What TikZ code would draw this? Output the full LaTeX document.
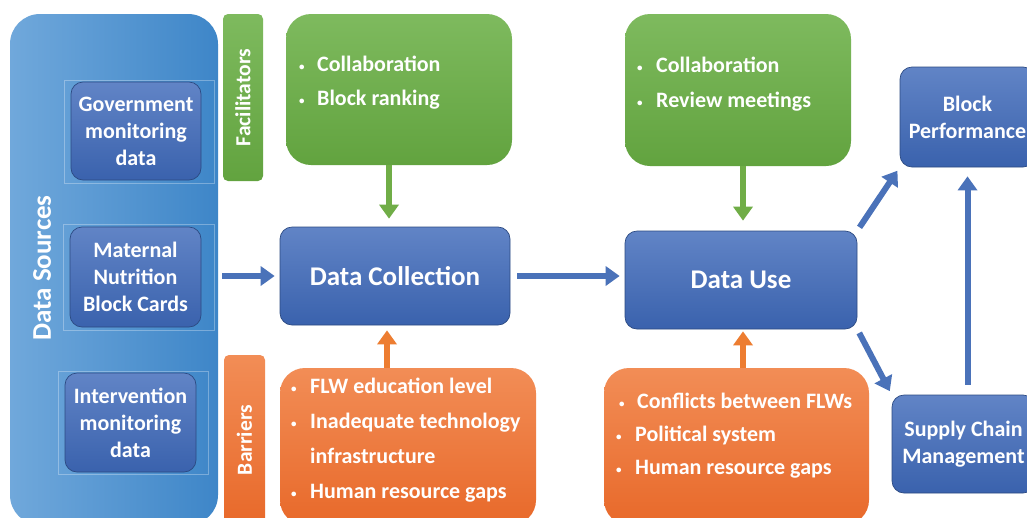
\documentclass[tikz,border=0pt]{standalone}
\usepackage{fontspec}
\setmainfont{Carlito}
\usetikzlibrary{arrows.meta}
\definecolor{bluetop}{HTML}{6184C6}
\definecolor{bluebot}{HTML}{3A62AD}
\definecolor{greentop}{HTML}{7EBA5E}
\definecolor{greenbot}{HTML}{62A33F}
\definecolor{orangetop}{HTML}{F28D56}
\definecolor{orangebot}{HTML}{E8692A}
\definecolor{srcleft}{HTML}{70A8DB}
\definecolor{srcright}{HTML}{3E86C8}
\definecolor{bluearrow}{HTML}{4A72B9}
\definecolor{greenarrow}{HTML}{70AD47}
\definecolor{orangearrow}{HTML}{ED7D31}
% small bullet in a box of fixed width
\newcommand{\bul}[1][19pt]{\makebox[#1][l]{\raisebox{1.5pt}{\fontsize{11}{11}\selectfont\textbullet}}}

\begin{document}
\begin{tikzpicture}[x=1pt,y=-1pt,text=white,
	bluebox/.style={draw=bluebot!75!black,line width=0.7pt,rounded corners=12pt,top color=bluetop,bottom color=bluebot,
		align=center,inner sep=0pt,font=\bfseries\fontsize{22}{27}\selectfont},
	greenbox/.style={rounded corners=25pt,top color=greentop,bottom color=greenbot},
	orangebox/.style={rounded corners=25pt,top color=orangetop,bottom color=orangebot},
	bar/.style={rounded corners=5pt,inner sep=0pt,rotate=90,font=\bfseries\fontsize{21.5}{26}\selectfont},
	frame/.style={draw=white,opacity=0.3,line width=0.6pt},
	itemlist/.style={anchor=north west,align=left,inner sep=0pt,font=\bfseries\fontsize{22}{34}\selectfont},
	flow/.style={line width=6pt,-{Triangle[width=19pt,length=14pt]}}]
	\useasboundingbox (0,0) rectangle (1027,517);
	\clip (0,0) rectangle (1027,517);
	\fill[white] (0,0) rectangle (1027,517);
	% data sources column
	\node[rounded corners=30pt,left color=srcleft,right color=srcright,minimum width=208pt,minimum height=511pt] (src) at (114,269.5) {};
	\node[rotate=90,font=\bfseries\fontsize{27}{30}\selectfont] (srctitle) at (42,268) {Data Sources};
	\draw[frame] (64,80) rectangle (214,183)
		(63,224) rectangle (214,330)
		(58,371) rectangle (208,474);
	\node[bluebox,minimum width=130pt,minimum height=98pt] (gov) at (136,131) {Government\\monitoring\\data};
	\node[bluebox,minimum width=131pt,minimum height=100pt] (mat) at (135.5,277) {Maternal\\Nutrition\\Block Cards};
	\node[bluebox,minimum width=131pt,minimum height=99pt] (int) at (130.5,422.5) {Intervention\\monitoring\\data};
	% side bars (rotated, so top colour is the left side)
	\node[bar,top color=greentop,bottom color=greenbot,minimum width=167pt,minimum height=40pt] (fac) at (243,97.5) {Facilitators};
	\node[bar,top color=orangetop,bottom color=orangebot,minimum width=170pt,minimum height=41pt] (bar) at (244.5,440) {Barriers};
	% facilitator and barrier boxes
	\node[greenbox,minimum width=226pt,minimum height=151pt] (g1) at (399,89.5) {};
	\node[itemlist] (g1list) at (299,56) {\bul[18pt]Collaboration\\\bul[18pt]Block ranking};
	\node[greenbox,minimum width=226pt,minimum height=152pt] (g2) at (738,90) {};
	\node[itemlist,font=\bfseries\fontsize{22}{35}\selectfont] (g2list) at (637,57) {\bul[19pt]Collaboration\\\bul[19pt]Review meetings};
	\node[orangebox,minimum width=256pt,minimum height=157pt] (o1) at (408,446.5) {};
	\node[itemlist,font=\bfseries\fontsize{22}{35}\selectfont] (o1list) at (291,378) {\bul FLW education level\\\bul Inadequate technology\\\hspace*{19pt}infrastructure\\\bul Human resource gaps};
	\node[orangebox,minimum width=265pt,minimum height=157pt] (o2) at (736.5,446.5) {};
	\node[itemlist,font=\bfseries\fontsize{22}{33}\selectfont] (o2list) at (616,393) {\hspace*{3pt}\bul[18pt]Conflicts between FLWs\\\bul Political system\\\bul Human resource gaps};
	% main flow
	\node[bluebox,font=\bfseries\fontsize{27}{30}\selectfont,minimum width=230pt,minimum height=98pt] (col) at (395,276) {Data Collection};
	\node[bluebox,font=\bfseries\fontsize{27}{30}\selectfont,minimum width=232pt,minimum height=98pt] (use) at (741,280) {Data Use};
	\node[bluebox,minimum width=135pt,minimum height=100pt] (perf) at (967.5,117) {Block\\Performance};
	\node[bluebox,minimum width=143pt,minimum height=98pt] (scm) at (963.5,444) {Supply Chain\\Management};
	% arrows
	\draw[flow,bluearrow,shorten <=4pt,shorten >=5pt] (src.east |- col.west) -- (col.west);
	\draw[flow,bluearrow,shorten <=7pt,shorten >=5pt] (col.east) -- (col.east -| use.west);
	\draw[flow,greenarrow,shorten >=8pt] ([xshift=-10pt]g1.south) -- ([xshift=-10pt]g1.south |- col.north);
	\draw[flow,greenarrow,shorten >=10pt] ([xshift=5pt]g2.south) -- ([xshift=5pt]g2.south |- use.north);
	\draw[flow,orangearrow,shorten >=5pt] ([xshift=-21pt]o1.north) -- ([xshift=-21pt]o1.north |- col.south);
	\draw[flow,orangearrow,shorten >=2pt] ([xshift=6.5pt]o2.north) -- ([xshift=6.5pt]o2.north |- use.south);
	\draw[flow,bluearrow,shorten <=4pt,shorten >=4pt] (use.north east) -- (perf.south west);
	\draw[flow,bluearrow,shorten <=4pt,shorten >=4pt] (use.south east) -- (scm.north west);
	\draw[flow,bluearrow,shorten <=10pt,shorten >=9pt] (perf.south |- scm.north) -- (perf.south);
\end{tikzpicture}
\end{document}
